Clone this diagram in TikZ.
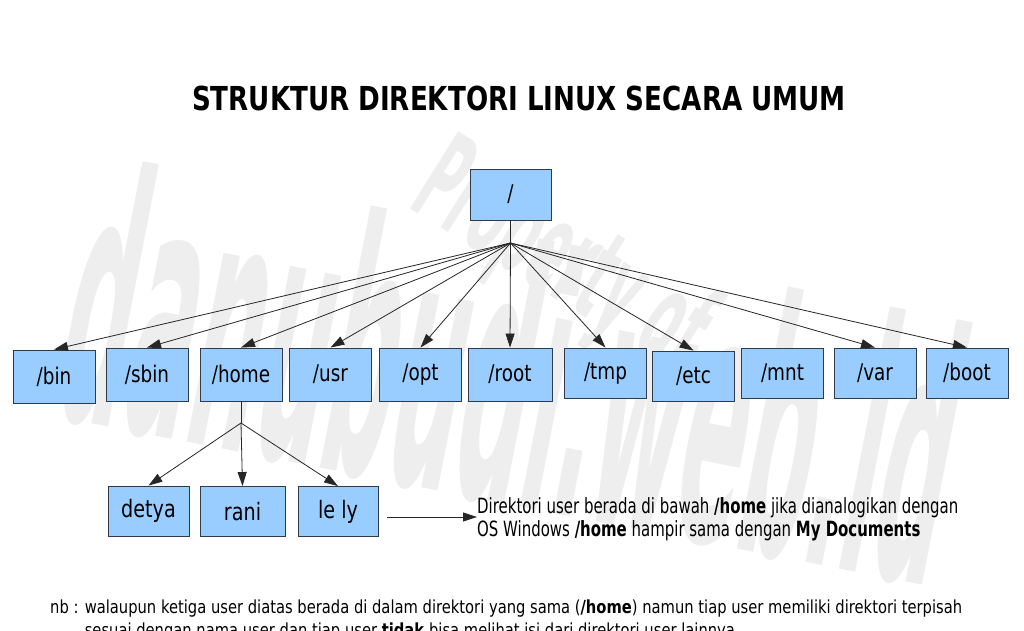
\documentclass[tikz,border=0pt]{standalone}
\usepackage{fontspec}
\usepackage{graphicx}
\setmainfont{DejaVu Sans}
\newfontfamily\lab[FakeStretch=0.8]{DejaVu Sans}
\usetikzlibrary{arrows.meta}
\definecolor{boxfill}{HTML}{99CCFF}
\definecolor{boxline}{HTML}{2E3B4A}
\definecolor{wmark}{HTML}{EEEEEE}
\newcommand\fitto[2]{\resizebox{#1}{\height}{#2}}
\tikzset{
  dirbox/.style={draw=boxline, fill=boxfill, line width=0.9pt, inner sep=0pt,
    minimum width=82pt, minimum height=53pt, font=\lab\fontsize{23}{23}\selectfont},
  userbox/.style={dirbox, minimum height=50pt, font=\lab\fontsize{24}{24}\selectfont},
  link/.style={draw=black!85, line width=0.8pt},
  arr/.style={link, -{Triangle[length=14pt,width=9pt]}},
  wm/.style={text=wmark, font=\bfseries, inner sep=0pt, transform shape}
}
\begin{document}
\begin{tikzpicture}[x=1pt,y=-1pt]
\useasboundingbox (0,0) rectangle (1024,630);
\fill[white] (0,0) rectangle (1024,630);
\clip (0,0) rectangle (1024,630);
% watermark
\begin{scope}[shift={(515,372)}, rotate=-11, yscale=3.7]
  \node[wm, font=\bfseries\fontsize{95}{95}\selectfont] (wm1) at (0,0) {danubudi.web.id};
\end{scope}
\begin{scope}[shift={(560,262)}, rotate=-32, yscale=2.5]
  \node[wm, font=\bfseries\fontsize{50}{50}\selectfont] (wm2) at (0,0) {Property of};
\end{scope}
% title
\node[anchor=base, inner sep=0pt, font=\bfseries\fontsize{33}{33}\selectfont] (title) at (519,110)
  {\fitto{654pt}{STRUKTUR DIREKTORI LINUX SECARA UMUM}};
% root
\node[dirbox, minimum width=81pt, minimum height=51pt] (root) at (510.5,194.5) {/};
% first level
\node[dirbox] (bin)   at (54,376.5)  {/bin};
\node[dirbox] (sbin)  at (147,374.5) {/sbin};
\node[dirbox] (home)  at (241,374.5) {/home};
\node[dirbox] (usr)   at (330.5,374.5) {/usr};
\node[dirbox] (opt)   at (420.5,374.5) {/opt};
\node[dirbox, minimum width=84pt] (rootd) at (510,374.5) {/root};
\node[dirbox, minimum height=50pt] (tmp)  at (605.5,373) {/tmp};
\node[dirbox, minimum height=50pt] (etc)  at (693.5,376) {/etc};
\node[dirbox, minimum height=50pt] (mnt)  at (782.5,373) {/mnt};
\node[dirbox, minimum height=50pt] (var)  at (875,373) {/var};
\node[dirbox, minimum height=50pt] (boot) at (967,373) {/boot};
% users
\node[userbox, minimum width=81pt] (detya) at (148.5,511) {detya};
\node[userbox, minimum width=85pt] (rani)  at (242.5,511.5) {rani};
\node[userbox, minimum width=80pt] (lely)  at (338,511.5) {le ly};
% connectors
\coordinate (hub) at (510.5,243);
\draw[link] (root.south) -- (hub);
\foreach \n in {bin,sbin,home,usr,opt,rootd,tmp,etc,var,boot}
  \draw[arr] (hub) -- (\n.north);
\coordinate (hhub) at (241,423);
\draw[link] (home.south) -- (hhub);
\draw[arr] (hhub) -- (detya.north);
\draw[arr] (hhub) -- (rani.north);
\draw[arr] (hhub) -- (lely.north);
% note
\node[anchor=base west, inner sep=0pt, font=\fontsize{21}{23}\selectfont] (note) at (477,513)
  {\fitto{481pt}{\begin{tabular}[t]{@{}l@{}}Direktori user berada di bawah \textbf{/home} jika dianalogikan dengan\\
   OS Windows \textbf{/home} hampir sama dengan \textbf{My Documents}\end{tabular}}};
\coordinate (nstart) at (387,517);
\draw[arr] (nstart) -- (nstart -| note.west);
% bottom remark
\node[anchor=base west, inner sep=0pt, font=\fontsize{18}{23}\selectfont] (nb) at (50,613)
  {\fitto{912pt}{\begin{tabular}[t]{@{}l@{}}nb : walaupun ketiga user diatas berada di dalam direktori yang sama (\textbf{/home}) namun tiap user memiliki direktori terpisah\\
   \phantom{nb : }sesuai dengan nama user dan tiap user \textbf{tidak} bisa melihat isi dari direktori user lainnya\end{tabular}}};
\end{tikzpicture}
\end{document}
